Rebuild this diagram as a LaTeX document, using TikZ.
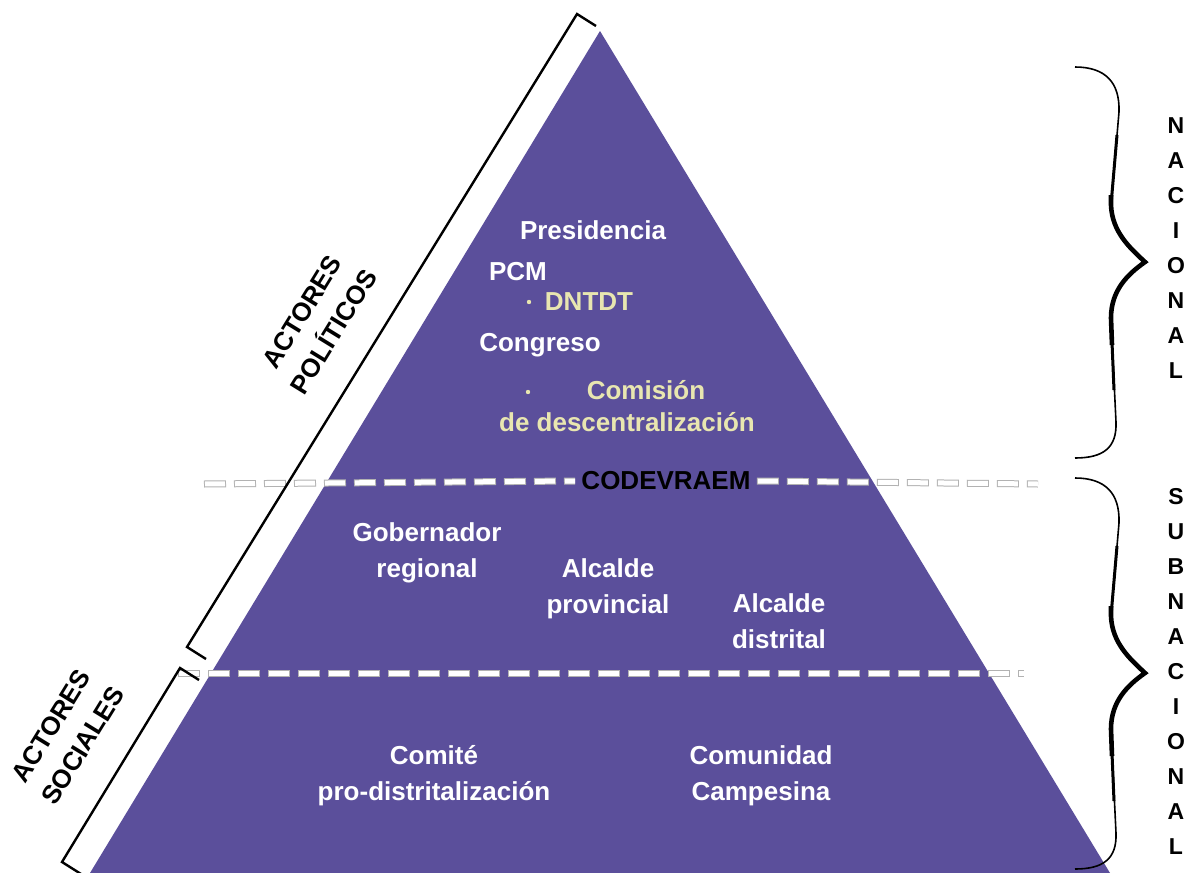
\documentclass[tikz,border=0pt]{standalone}
\usepackage{fontspec}
\setmainfont{Liberation Sans}
\definecolor{pyramid}{RGB}{91,79,155}
\definecolor{paleyellow}{RGB}{232,230,176}
\definecolor{dashrim}{RGB}{178,178,178}
\tikzset{
  lab/.style={text=white, font=\bfseries\fontsize{13}{18}\selectfont, align=center},
  sublab/.style={lab, text=paleyellow},
  dot/.style={circle, fill=paleyellow, inner sep=0pt, minimum size=2.2pt},
  letter/.style={font=\bfseries\fontsize{11.5}{12}\selectfont},
  actor/.style={font=\bfseries\fontsize{13}{18.5}\selectfont, align=center, rotate=58.4},
  rimdash/.style={draw=dashrim, line width=3.5pt, dash pattern=on 11pt off 4pt},
  whitedash/.style={draw=white, line width=2.5pt, dash pattern=on 10pt off 5pt, dash phase=14.5pt},
  bracket/.style={line width=1.2pt}
}
\begin{document}
\begin{tikzpicture}[x=0.5pt,y=-0.5pt]
\clip (0,0) rectangle (1190,873);
\fill[white] (0,0) rectangle (1190,873);
\fill[pyramid] (600,31) -- (1110,873) -- (90,873) -- cycle;

\node[lab] (pres) at (593,230) {Presidencia};
\node[lab] (pcm) at (518,272) {PCM};
\node[dot] (dot1) at (529,302) {};
\node[sublab] (dntdt) at (589,302) {DNTDT};
\node[lab] (congreso) at (540,345) {Congreso};
\node[dot] (dot2) at (528,392) {};
\node[sublab] (comision) at (646,390) {Comisión};
\node[sublab] (descen) at (627,422) {de descentralización};
\node[lab, text=black, inner sep=3pt] (codev) at (666,481) {CODEVRAEM};
\node[lab] (gob) at (427,553) {Gobernador\\regional};
\node[lab] (alcprov) at (608,589) {Alcalde\\provincial};
\node[lab] (alcdist) at (779,621) {Alcalde\\distrital};
\node[lab] (comite) at (434,776) {Comité\\pro-distritalización};
\node[lab] (comunidad) at (761,776) {Comunidad\\Campesina};

\coordinate (d1w) at (204,484);
\coordinate (d1e) at (1038,484);
\coordinate (d2w) at (178,673);
\coordinate (d2e) at (1024,673);
\foreach \a/\b in {d1w/codev.west, codev.east/d1e, d2w/d2e} {
  \draw[rimdash] (\a) -- (\b);
  \draw[whitedash] (\a) -- (\b);
}

\draw[bracket] (596,26) -- (577,14) -- (187,647) -- (206,659);
\draw[bracket] (199,680) -- (180,668) -- (62,862) -- (81,874);
\node[actor] (politicos) at (318,322) {ACTORES\\POLÍTICOS};
\node[actor] (sociales) at (67,736) {ACTORES\\SOCIALES};

\foreach \s in {0,411} {
  \begin{scope}[shift={(0,\s)}]
    \draw[line width=0.8pt] (1075,67) .. controls (1105,67) and (1120,82) .. (1119,112) -- (1111,205)
      .. controls (1112,232) and (1130,248) .. (1145,262)
      .. controls (1128,274) and (1111,290) .. (1111,318) -- (1116,422)
      .. controls (1117,448) and (1103,458) .. (1075,458);
    \draw[line width=1.5pt] (1117,135) -- (1111,205)
      .. controls (1112,232) and (1130,248) .. (1145,262)
      .. controls (1128,274) and (1111,290) .. (1111,318) -- (1114,390);
    \draw[line width=2.3pt] (1111,195) -- (1111,205)
      .. controls (1112,232) and (1130,248) .. (1145,262)
      .. controls (1128,274) and (1111,290) .. (1111,318) -- (1112,345);
  \end{scope}
}

\foreach \l [count=\i] in {N,A,C,I,O,N,A,L}
  \node[letter] (nac\i) at (1176,{91+35*\i}) {\l};
\foreach \l [count=\i] in {S,U,B,N,A,C,I,O,N,A,L}
  \node[letter] (sub\i) at (1176,{462+35*\i}) {\l};
\end{tikzpicture}
\end{document}
